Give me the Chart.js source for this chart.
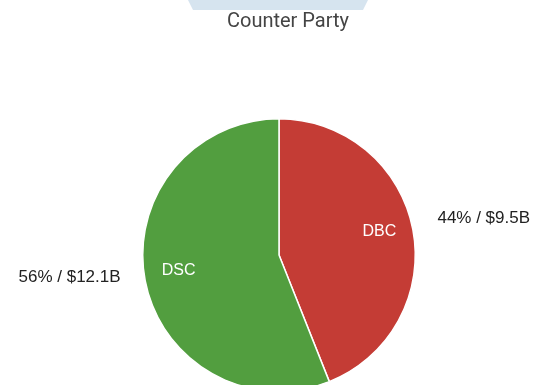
<!DOCTYPE html>
<html>
<head>
<meta charset="utf-8">
<script src="https://cdn.jsdelivr.net/npm/chart.js"></script>
<style>
    html, body { margin: 0; padding: 0; background: #fff; }
    body { width: 548px; height: 385px; overflow: hidden; position: relative; }
    #tab { position: absolute; left: 0; top: 0; width: 548px; height: 10px; background: #d6e4ef;
           clip-path: polygon(188px 0, 368px 0, 363px 10px, 193px 10px); }
    #wrap { position: absolute; left: 0; top: 0; width: 548px; height: 392px; }
</style>
</head>
<body>
<div id="tab"></div>
<div id="wrap"><canvas id="partyPie"></canvas></div>
<script>
// data
const partyLabels = ['DBC', 'DSC'];
const partyValues = [9.5, 12.1];          // $B
const partyColors = ['#c43c35', '#529e3f'];
const chartTitle = 'Counter Party';

const total = partyValues.reduce((a, b) => a + b, 0);

// labels inside slices + value labels outside + title
const pieLabels = {
    id: 'pieLabels',
    afterDraw(chart) {
        const ctx = chart.ctx;
        const meta = chart.getDatasetMeta(0);
        ctx.save();

        ctx.fillStyle = '#444';
        ctx.font = '20px Roboto';
        ctx.textAlign = 'center';
        ctx.textBaseline = 'middle';
        ctx.fillText(chartTitle, 288, 22);

        meta.data.forEach((arc, i) => {
            const mid = (arc.startAngle + arc.endAngle) / 2;
            const r = arc.outerRadius;
            const cx = arc.x, cy = arc.y;

            ctx.fillStyle = '#fff';
            ctx.font = '16px "Liberation Sans"';
            ctx.textAlign = 'center';
            ctx.textBaseline = 'middle';
            ctx.fillText(partyLabels[i], cx + Math.cos(mid) * r * 0.75, cy + Math.sin(mid) * r * 0.75 - 4);

            const pct = Math.round(partyValues[i] / total * 100);
            const right = Math.cos(mid) >= 0;
            const ox = cx + Math.cos(mid) * (r + 22);
            const oy = cy + Math.sin(mid) * (r + 22) - 7;
            ctx.fillStyle = '#222';
            ctx.font = '17px "Liberation Sans"';
            ctx.textAlign = right ? 'left' : 'right';
            ctx.fillText(`${pct}% / $${partyValues[i]}B`, ox + (right ? 3 : -3), oy);
        });
        ctx.restore();
    }
};

new Chart(document.getElementById('partyPie'), {
    type: 'pie',
    data: {
        labels: partyLabels,
        datasets: [{
            data: partyValues,
            backgroundColor: partyColors,
            borderColor: '#fff',
            borderWidth: 1.5
        }]
    },
    options: {
        responsive: true,
        maintainAspectRatio: false,
        animation: false,
        layout: { padding: { left: 10, top: 118, right: 0, bottom: 0 } },
        plugins: {
            legend: { display: false },
            tooltip: { enabled: false },
            title: { display: false }
        }
    },
    plugins: [pieLabels]
});
</script>
</body>
</html>
